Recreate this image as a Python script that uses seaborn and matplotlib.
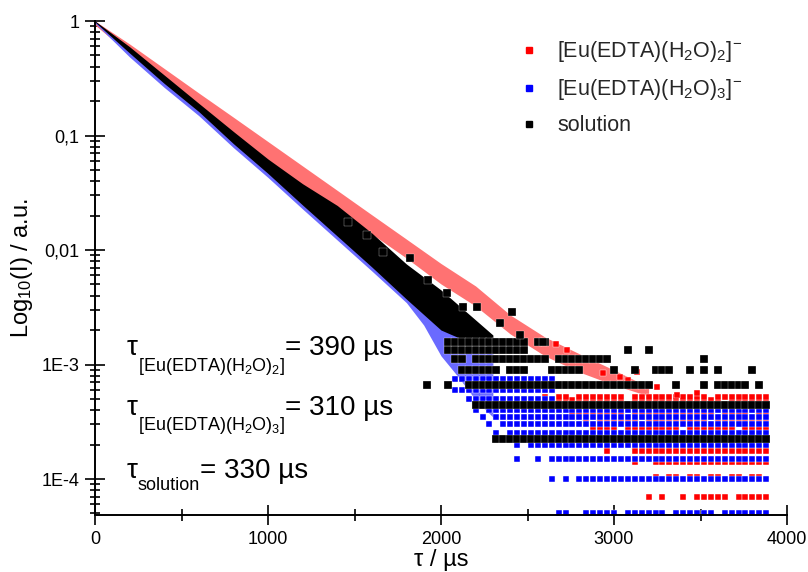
import matplotlib
matplotlib.use("Agg")
import matplotlib.pyplot as plt
import numpy as np
import pandas as pd
import seaborn as sns
from matplotlib.ticker import FixedLocator, FixedFormatter, LogLocator, MultipleLocator, NullFormatter
from matplotlib.lines import Line2D

# ---------------- data ----------------
# dense decay bands (time in µs, upper / lower edge of the point cloud)
red_band_t = [0, 200, 400, 600, 800, 1000, 1200, 1400, 1600, 1800, 2000, 2200, 2400, 2600, 2800, 3000, 3200]
red_band_hi = [1.0, 0.630, 0.385, 0.235, 0.1445, 0.0885, 0.0542, 0.0332, 0.0203, 0.01245, 0.00762,
               0.00485, 0.00271, 0.00174, 0.00124, 0.000895, 0.000636]
red_band_lo = [0.923, 0.515, 0.305, 0.1774, 0.103, 0.0598, 0.0362, 0.0223, 0.0138, 0.00851, 0.00505,
               0.00324, 0.00185, 0.00119, 0.000859, 0.000662, 0.000531]

blue_band_t = [0, 200, 400, 600, 800, 1000, 1200, 1400, 1600, 1800, 1900, 2000, 2100, 2200, 2300]
blue_band_hi = [1.0, 0.55, 0.30, 0.17, 0.092, 0.052, 0.028, 0.0152, 0.0082, 0.0043, 0.0030, 0.0024,
                0.0019, 0.0015, 0.0015]
blue_band_lo = [0.96, 0.485, 0.263, 0.149, 0.0784, 0.043, 0.0228, 0.01223, 0.00656, 0.00347, 0.00221,
                0.00119, 0.000778, 0.00049, 0.000348]

black_band_t = [0, 200, 400, 600, 800, 1000, 1200, 1400, 1600, 1800, 2000, 2200, 2300]
black_band_hi = [1.0, 0.596, 0.3375, 0.191, 0.1084, 0.0623, 0.0379, 0.0245, 0.01407, 0.00755, 0.00448,
                 0.00245, 0.00181]
black_band_lo = [0.98, 0.525, 0.285, 0.1617, 0.0849, 0.0466, 0.0247, 0.01325, 0.00711, 0.00373, 0.0020,
                 0.00148, 0.00148]

# isolated points
black_out_t = [1462, 1572, 1665, 1821, 1925, 2035, 2127, 2208, 2341, 2410, 2457, 2589]
black_out_v = [0.01757, 0.01352, 0.00961, 0.00851, 0.00547, 0.00421, 0.00318, 0.00318, 0.0023,
               0.00288, 0.00181, 0.00157]
red_out_t = [2665, 2728, 2832, 2936, 3035, 3081, 3133, 3248, 3364, 3480]
red_out_v = [0.00151, 0.00134, 0.00114, 0.000843, 0.000778, 0.000733, 0.000859, 0.000636,
             0.000542, 0.000564]

# noise-floor rows: quantised intensity levels, occupancy read on a 40 µs grid from 1800 µs
grid_t0 = 1800
grid_dt = 40
black_levels = [2.23e-4, 4.46e-4, 6.69e-4, 8.92e-4, 1.115e-3, 1.338e-3, 1.561e-3]
black_masks = [
    ".......... ...####### ########## ########## ########## ###",
    ".......... ########## ########## ########## ########## ###",
    "...#..#..# ########## ########## ######...# ...#.##### .#.",
    "........## ####.###.. .#####.... #..#..###. .#.#.#.... #..",
    ".......##. ########## #.######## .......... ...#...... ...",
    "......#### ########.. .......... ..#..#.... .......... ...",
    "......#### ########.# #......... .......... .......... ...",
]
blue_levels = [5e-5, 1e-4, 1.5e-4, 2e-4, 2.5e-4, 3e-4, 3.5e-4, 4e-4, 5e-4, 6e-4, 7.5e-4]
blue_masks = [
    ".......... .......... ..##..#### #.######.# #####.#### ###",
    ".......... .......... .#.#.##### ########## ########## ###",
    ".......... ......#..# .######### ########## ########## ###",
    ".......... ......#.## ########## ########## ########## ###",
    ".......... ...#.##### ########## ########## ########## ###",
    ".......... ..#.###### ########## ########## ########## ###",
    ".......... .#.####### ########## ########## ########## ###",
    ".......... #.######## ########## ########## ########## ###",
    ".........# ########## ##........ .......... .......... ...",
    ".......### ########## ##........ .......... .......... ...",
    ".......### ########## ##........ .......... .......... ...",
]
red_levels = [7e-5, 1.05e-4, 1.4e-4, 1.75e-4, 2.1e-4, 2.45e-4, 2.8e-4, 3.15e-4, 3.5e-4,
              3.85e-4, 4.2e-4, 4.9e-4, 5.25e-4]
red_masks = [
    ".......... .......... .......... .....#.#.. #.#####.## ###",
    ".......... .......... .......... ......#.## .##.##.##. ##.",
    ".......... .......... .......... ...#..#### ########## ###",
    ".......... .......... .........# ...####### ########## ###",
    ".......... .......... ........## #.#.###.## #.###.#### ###",
    ".......... .......... .......#.# ##.####.## ###.###### #.#",
    ".......... .......... .......### #.######## .#######.# ###",
    ".......... .......... ......#.## ####.##### ####.##### ###",
    ".......... .......... .....##.## ######.### #.######## ###",
    ".......... .......... ....###### ##.####### #####.#### .##",
    ".......... .......... ..######## ########.# ########## ###",
    ".......... .......... ########## ##.####### ######.### ###",
    ".......... .......... #.##.##### ##.####### ####.##### ###",
]

legend_labels = [r"[Eu(EDTA)(H$_2$O)$_2$]$^{-}$", r"[Eu(EDTA)(H$_2$O)$_3$]$^{-}$", "solution"]
annot_subs = [r"[Eu(EDTA)(H$_2$O)$_2$]", r"[Eu(EDTA)(H$_2$O)$_3$]", "solution"]
annot_vals = ["= 390 µs", "= 310 µs", "= 330 µs"]
y_ticks = [1e-4, 1e-3, 1e-2, 1e-1, 1]
y_ticklabels = ["1E-4", "1E-3", "0,01", "0,1", "1"]
x_ticks = [0, 1000, 2000, 3000, 4000]


def decode(levels, masks):
    ts, vs = [], []
    for lev, m in zip(levels, masks):
        m = m.replace(" ", "")
        for j, c in enumerate(m):
            if c == "#":
                ts.append(grid_t0 + grid_dt * j)
                vs.append(lev)
    return ts, vs


# ---------------- figure ----------------
sns.set_theme(style="white")
plt.rcParams["font.family"] = ["Liberation Sans", "DejaVu Sans"]
plt.rcParams["mathtext.fontset"] = "custom"
plt.rcParams["mathtext.rm"] = "Liberation Sans"
plt.rcParams["mathtext.it"] = "Liberation Sans:italic"
plt.rcParams["mathtext.bf"] = "Liberation Sans:bold"

W, H = 808, 572
fig = plt.figure(figsize=(W / 100, H / 100), dpi=100)
fig.patch.set_facecolor("white")
ax = fig.add_axes([95 / W, 1 - 515 / H, (787 - 95) / W, (515 - 21) / H])
ax.set_facecolor("white")

RED, BLUE, BLACK = "#ff0000", "#0000ff", "#000000"

# red
ax.fill_between(red_band_t, red_band_lo, red_band_hi, color="#ff7272", lw=0, zorder=1)
rt, rv = decode(red_levels, red_masks)
df_red = pd.DataFrame({"t": rt + red_out_t, "v": rv + red_out_v})
sns.scatterplot(data=df_red, x="t", y="v", ax=ax, marker="s", s=17, color=RED,
                edgecolor="white", linewidth=0.3, zorder=2, legend=False)

# blue
ax.fill_between(blue_band_t, blue_band_lo, blue_band_hi, color="#6a6aff", lw=0, zorder=3)
bt, bv = decode(blue_levels, blue_masks)
df_blue = pd.DataFrame({"t": bt, "v": bv})
sns.scatterplot(data=df_blue, x="t", y="v", ax=ax, marker="s", s=17, color=BLUE,
                edgecolor="white", linewidth=0.3, zorder=4, legend=False)

# black
ax.fill_between(black_band_t, black_band_lo, black_band_hi, color=BLACK, lw=0, zorder=5)
kt, kv = decode(black_levels, black_masks)
df_black = pd.DataFrame({"t": kt + black_out_t, "v": kv + black_out_v})
sns.scatterplot(data=df_black, x="t", y="v", ax=ax, marker="s", s=29, color=BLACK,
                edgecolor="white", linewidth=0.2, zorder=6, legend=False)

ax.set_yscale("log")
ax.set_xlim(0, 4000)
ax.set_ylim(4.85e-5, 1)

for side in ["top", "right"]:
    ax.spines[side].set_visible(False)
for side in ["left", "bottom"]:
    ax.spines[side].set_color("black")
    ax.spines[side].set_linewidth(1.4)
    ax.spines[side].set_zorder(10)

ax.yaxis.set_major_locator(FixedLocator(y_ticks))
ax.yaxis.set_major_formatter(FixedFormatter(y_ticklabels))
ax.yaxis.set_minor_locator(LogLocator(base=10, subs=range(2, 10), numticks=20))
ax.yaxis.set_minor_formatter(NullFormatter())
ax.xaxis.set_major_locator(FixedLocator(x_ticks))
ax.xaxis.set_minor_locator(MultipleLocator(500))
ax.tick_params(axis="both", which="major", direction="inout", length=14.5, width=1.2,
               color="black", labelsize=13, labelcolor="black", pad=4)
ax.tick_params(axis="y", which="minor", direction="inout", length=7.2, width=1.2, color="black")
ax.tick_params(axis="x", which="minor", direction="inout", length=8.6, width=1.2, color="black")
ax.tick_params(left=True, bottom=True, which="both")
ax.grid(False)

ax.set_xlabel("τ / µs", fontsize=17, color="black", labelpad=1)
ax.set_ylabel(r"Log$_{10}$(I) / a.u.", fontsize=17, color="black", labelpad=5)

# legend
handles = [Line2D([], [], linestyle="", marker="s", markersize=4, markerfacecolor=c,
                  markeredgecolor=c) for c in (RED, BLUE, BLACK)]
fig.legend(handles, legend_labels, loc="upper left", bbox_to_anchor=(499 / W, 1 - 20 / H),
           frameon=False, fontsize=15.5, handlelength=1.0, handletextpad=0.8,
           labelspacing=0.6, borderpad=0.4)

# annotations (tau values)
fig.canvas.draw()
renderer = fig.canvas.get_renderer()
baselines = [355, 415, 478]
sub_drop = [16, 15, 12]
for base, drop, sub, val in zip(baselines, sub_drop, annot_subs, annot_vals):
    x = 127
    for txt, size, dy in (("τ", 20, 0), (sub, 13, drop), (val, 20, 0)):
        t = fig.text(x / W, 1 - (base + dy) / H, txt, fontsize=size, va="baseline",
                     ha="left", color="black")
        bb = t.get_window_extent(renderer=renderer)
        x = bb.x1

fig.savefig("out.png", dpi=100, facecolor="white")
